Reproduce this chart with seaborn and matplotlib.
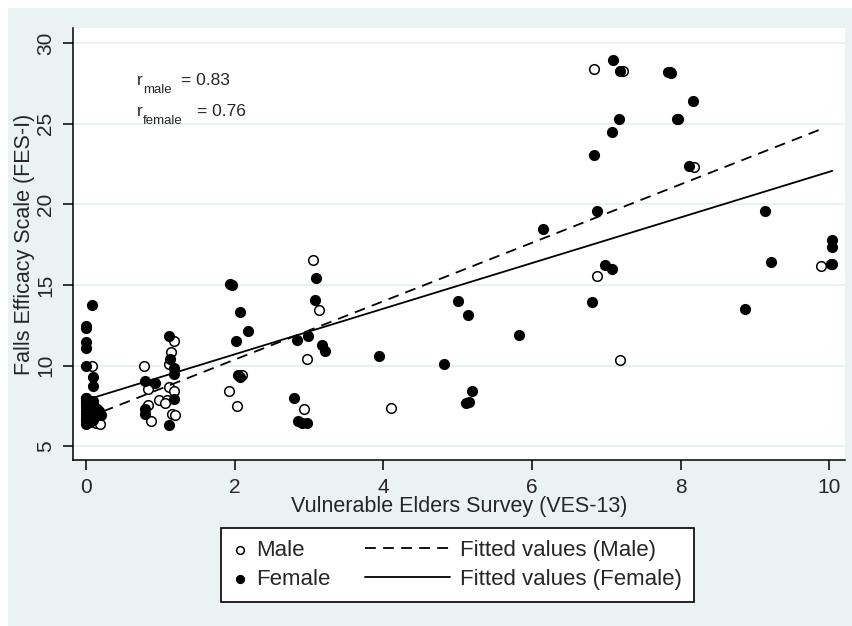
import numpy as np
import pandas as pd
import matplotlib
matplotlib.use("Agg")
from matplotlib import pyplot as plt
from matplotlib.legend_handler import HandlerLine2D, HandlerPathCollection
from matplotlib.patches import Rectangle
import seaborn as sns

# VES-13 (jittered) and FES-I values
male_ves = [0.08, 0.13, 0.09, 0.19, 0.05, 0.10, 0.00, 0.15,
            0.00, 0.00, 0.10, 0.05,
            0.78, 0.84, 0.98, 0.84, 0.88,
            1.18, 1.14, 1.11, 1.12, 1.18, 1.09, 1.06, 1.16, 1.20,
            1.93, 2.03, 2.10,
            2.97, 3.06, 3.13, 2.93,
            4.10,
            6.84, 7.22, 8.18, 6.87, 7.19, 7.86, 7.96,
            9.89]
male_fes = [10.0, 6.42, 7.8, 6.36, 7.0, 7.3, 6.6, 6.9,
            8.0, 7.8, 7.7, 7.5,
            10.0, 8.53, 7.85, 7.55, 6.53,
            11.52, 10.86, 10.07, 8.69, 8.42, 7.87, 7.7, 6.98, 6.92,
            8.4, 7.5, 9.39,
            10.43, 16.53, 13.43, 7.29,
            7.39,
            28.39, 28.27, 22.31, 15.58, 10.32, 28.2, 25.32,
            16.2]

female_ves = [0.08, 0.00, 0.00, 0.00, 0.00, 0.00, 0.10, 0.10,
              0.00, 0.00, 0.00, 0.00, 0.00, 0.00, 0.00, 0.00, 0.00,
              0.05, 0.05, 0.10, 0.10, 0.15, 0.15, 0.20, 0.18, 0.05, 0.10,
              0.79, 0.93, 0.79, 0.79, 1.11, 1.13, 1.19, 1.18, 1.19, 1.12,
              1.94, 1.97, 2.07, 2.18, 2.02, 2.05, 2.07,
              3.09, 3.08, 2.84, 2.99, 3.18, 3.22, 2.80, 2.85, 2.97, 2.90,
              3.94,
              5.00, 5.14, 4.81, 5.19, 5.11, 5.15, 5.82, 6.15,
              7.09, 7.19, 7.83, 7.87, 8.17, 7.17, 7.95, 7.08, 6.84, 8.11,
              6.87, 6.98, 7.08, 6.81,
              9.13, 10.04, 10.04, 9.21, 10.04, 10.02, 8.87]
female_fes = [13.74, 12.45, 12.3, 11.44, 11.07, 10.0, 9.3, 8.73,
              8.0, 7.8, 7.6, 7.4, 7.2, 7.0, 6.8, 6.6, 6.4,
              7.5, 6.9, 7.1, 6.6, 7.3, 7.0, 6.9, 7.2, 6.5, 7.7,
              9.04, 8.94, 7.29, 6.98, 11.8, 10.38, 9.87, 9.45, 7.95, 6.3,
              15.07, 14.98, 13.33, 12.13, 11.52, 9.39, 9.31,
              15.41, 14.05, 11.56, 11.83, 11.25, 10.9, 8.01, 6.57, 6.41, 6.45,
              10.61,
              14.03, 13.12, 10.12, 8.4, 7.7, 7.75, 11.87, 18.49,
              28.95, 28.27, 28.2, 28.15, 26.43, 25.3, 25.32, 24.51, 23.03, 22.35,
              19.6, 16.22, 16.0, 13.93,
              19.6, 17.8, 17.35, 16.43, 16.28, 16.3, 13.52]

r_names = ["male", "female"]
r_values = ["0.83", "0.76"]

male = pd.DataFrame({"ves": male_ves, "fes": male_fes})
female = pd.DataFrame({"ves": female_ves, "fes": female_fes})


class MarkerLeft(HandlerPathCollection):
    # marker sits in a short handle box
    def get_xdata(self, legend, xdescent, ydescent, width, height, fontsize):
        return [-xdescent, -xdescent + width], [-xdescent + 0.5 * width]


class LineLeft(HandlerLine2D):
    # line sample reaches back into the column gap, like the Stata legend
    def create_artists(self, legend, orig_handle, xdescent, ydescent, width, height, fontsize, trans):
        extra = 3.2 * fontsize
        return super().create_artists(legend, orig_handle, xdescent + extra, ydescent,
                                      width + extra, height, fontsize, trans)


sns.set_style("white")
plt.rcParams["font.family"] = ["Liberation Sans", "DejaVu Sans"]

bg = "#EAF2F3"
fig = plt.figure(figsize=(8.52, 6.26), dpi=100, facecolor="white")
fig.patches.append(Rectangle((8 / 852, 0), 1, 1 - 8 / 626, transform=fig.transFigure,
                             facecolor=bg, edgecolor="none", zorder=-10))
ax = fig.add_axes([0.0857, 0.265, 0.906, 0.69])
ax.set_facecolor("white")

sns.scatterplot(data=male, x="ves", y="fes", ax=ax, color="white", edgecolor="black",
                linewidth=1.1, s=48, label="Male", zorder=3)
sns.scatterplot(data=female, x="ves", y="fes", ax=ax, color="black", edgecolor="black",
                linewidth=1.1, s=48, label="Female", zorder=4)
sns.regplot(data=male, x="ves", y="fes", ax=ax, scatter=False, ci=None,
            label="Fitted values (Male)",
            line_kws=dict(color="black", lw=1.3, ls=(0, (6, 4)), zorder=5))
sns.regplot(data=female, x="ves", y="fes", ax=ax, scatter=False, ci=None,
            label="Fitted values (Female)",
            line_kws=dict(color="black", lw=1.3, zorder=5))

ax.set_xlim(-0.175, 10.21)
ax.set_ylim(4.13, 30.93)
ax.set_xticks(range(0, 11, 2))
ax.set_yticks(range(5, 31, 5))
ax.grid(axis="y", color="#E4EEF0", lw=1.2)
ax.grid(axis="x", visible=False)
ax.set_axisbelow(True)
for side in ["top", "right"]:
    ax.spines[side].set_visible(False)
for side in ["left", "bottom"]:
    ax.spines[side].set_color("black")
    ax.spines[side].set_linewidth(1.1)
ax.tick_params(direction="out", length=7, width=1.1, labelsize=15,
               left=True, bottom=True, color="black")
ax.tick_params(axis="x", pad=6)
ax.tick_params(axis="y", pad=6)
plt.setp(ax.get_yticklabels(), rotation=90, va="center")

ax.set_xlabel("Vulnerable Elders Survey (VES-13)", fontsize=15.5, labelpad=-1)
ax.set_ylabel("Falls Efficacy Scale (FES-I)", fontsize=15.5, labelpad=1)

# correlation notes: r with a lowered subscript
for i, (name, val) in enumerate(zip(r_names, r_values)):
    y0 = 27.40 - 1.92 * i
    ax.annotate("r", xy=(0.686, y0), fontsize=12.5, va="baseline")
    ax.annotate(name, xy=(0.686, y0), xytext=(4.3, -5.8), textcoords="offset points",
                fontsize=9.5, va="baseline")
    ax.annotate("= " + val, xy=(0.686, y0), xytext=(31.7 + 11.5 * i, 0),
                textcoords="offset points", fontsize=12.5, va="baseline")

handles, labels = ax.get_legend_handles_labels()
hmap = {handles[0]: MarkerLeft(), handles[1]: MarkerLeft(),
        handles[2]: LineLeft(), handles[3]: LineLeft()}
leg = ax.legend(handles, labels, handler_map=hmap, loc="upper center",
                bbox_to_anchor=(0.498, -0.157), borderaxespad=0, ncol=2,
                fontsize=16, frameon=True, fancybox=False, edgecolor="black",
                framealpha=1, markerscale=0.8, handlelength=0.6, handletextpad=0.45,
                columnspacing=4.76, borderpad=0.53, labelspacing=0.38)
leg.get_frame().set_linewidth(1.2)

fig.savefig("out.png", dpi=100, facecolor=fig.get_facecolor())
